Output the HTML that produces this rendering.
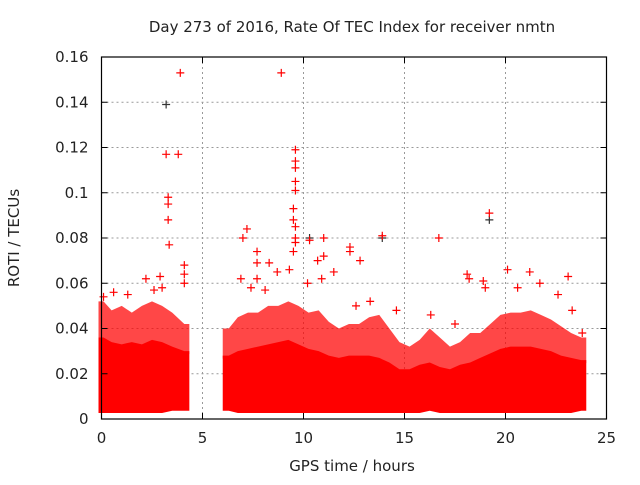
<!DOCTYPE html>
<html><head><meta charset="utf-8"><style>
body{margin:0;background:#fff}
svg text{font-family:"DejaVu Sans","Liberation Sans",sans-serif;fill:#222}
</style></head><body>
<svg id="chart" width="640" height="480" viewBox="0 0 640 480" xmlns="http://www.w3.org/2000/svg">
<rect width="640" height="480" fill="#fff"/>
<g id="grid"></g><g id="bands"></g><g id="marks"></g><g id="axes"></g>
<text x="352" y="32" font-size="15" text-anchor="middle">Day 273 of 2016, Rate Of TEC Index for receiver nmtn</text>
<text x="352" y="471" font-size="15" text-anchor="middle">GPS time / hours</text>
<text transform="translate(19,238) rotate(-90)" font-size="15" text-anchor="middle">ROTI / TECUs</text>
</svg>
<script>
const xTicks=[0,5,10,15,20,25];
const yTicks=[0,0.02,0.04,0.06,0.08,0.1,0.12,0.14,0.16];
const yTickLabels=["0","0.02","0.04","0.06","0.08","0.1","0.12","0.14","0.16"];
const seg1Start=0, seg1End=4.2, seg2Start=6.15, seg2End=23.85;
const binMid=[0.1,0.5,1,1.5,2,2.5,3,3.5,4.1,6.3,6.75,7.25,7.75,8.25,8.75,9.25,9.75,10.25,10.75,11.25,11.75,12.25,12.75,13.25,13.75,14.25,14.75,15.25,15.75,16.25,16.75,17.25,17.75,18.25,18.75,19.25,19.75,20.25,20.75,21.25,21.75,22.25,22.75,23.25,23.75];
const binLow=[0.004,0.004,0.004,0.004,0.004,0.004,0.004,0.005,0.005,0.005,0.004,0.004,0.004,0.004,0.004,0.004,0.004,0.004,0.004,0.004,0.004,0.004,0.004,0.004,0.004,0.004,0.004,0.004,0.004,0.005,0.004,0.004,0.004,0.004,0.004,0.004,0.004,0.004,0.004,0.004,0.004,0.004,0.004,0.004,0.005];
const binDense=[0.036,0.034,0.033,0.034,0.033,0.035,0.034,0.032,0.03,0.028,0.03,0.031,0.032,0.033,0.034,0.035,0.033,0.031,0.03,0.028,0.027,0.028,0.028,0.028,0.027,0.025,0.022,0.022,0.024,0.025,0.023,0.022,0.024,0.025,0.027,0.029,0.031,0.032,0.032,0.032,0.031,0.03,0.028,0.027,0.026];
const binTop=[0.052,0.048,0.05,0.047,0.05,0.052,0.05,0.047,0.042,0.04,0.045,0.047,0.047,0.05,0.05,0.052,0.05,0.047,0.048,0.043,0.04,0.042,0.042,0.045,0.046,0.04,0.034,0.032,0.035,0.04,0.036,0.032,0.034,0.038,0.038,0.042,0.046,0.047,0.047,0.048,0.046,0.044,0.041,0.038,0.036];
const ptX=[3.2,3.9,3.8,3.3,3.3,3.3,3.35,4.1,4.1,4.1,2.9,2.2,8.9,9.6,9.6,9.6,9.6,9.6,9.5,9.5,9.6,9.6,9.6,9.5,7.2,7.0,7.7,7.7,7.7,10.3,11,11,10.7,12.3,12.3,13.9,16.7,18.1,18.2,19.2,20.1,21.2,23.1,23.8,8.3,6.9,8.7,11.5,12.8,0.1,0.6,1.3,2.6,3.0,7.4,8.1,10.2,13.3,14.6,16.3,17.5,19.0,20.6,21.7,22.6,23.3,18.9,9.3,10.9,12.6];
const ptY=[0.117,0.153,0.117,0.098,0.095,0.088,0.077,0.068,0.064,0.06,0.063,0.062,0.153,0.119,0.114,0.111,0.105,0.101,0.093,0.088,0.085,0.08,0.078,0.074,0.084,0.08,0.074,0.069,0.062,0.079,0.08,0.072,0.07,0.076,0.074,0.081,0.08,0.064,0.062,0.091,0.066,0.065,0.063,0.038,0.069,0.062,0.065,0.065,0.07,0.054,0.056,0.055,0.057,0.058,0.058,0.057,0.06,0.052,0.048,0.046,0.042,0.058,0.058,0.06,0.055,0.048,0.061,0.066,0.062,0.05];
const blackX=[3.2,19.2,10.3,13.9];
const blackY=[0.139,0.088,0.08,0.08];
const NS="http://www.w3.org/2000/svg";
const L=101.5,R=606.5,T=57,B=419;
const xs=v=>L+(v/25)*(R-L);
const ys=v=>B-(v/0.16)*(B-T);
function mk(tag,attrs,parent){const e=document.createElementNS(NS,tag);for(const k in attrs)e.setAttribute(k,attrs[k]);parent.appendChild(e);return e;}
const grid=document.getElementById('grid'),axes=document.getElementById('axes'),bands=document.getElementById('bands'),marks=document.getElementById('marks');
xTicks.forEach((t,i)=>{const x=xs(t);
 if(i>0&&i<xTicks.length-1){const g=mk('line',{x1:x,x2:x,y1:T,y2:B,stroke:'#999','stroke-dasharray':'2,3'},grid);
 
 }
 mk('line',{x1:x,x2:x,y1:B,y2:B-6,stroke:'#000'},axes);mk('line',{x1:x,x2:x,y1:T,y2:T+6,stroke:'#000'},axes);
 const tx=mk('text',{x:x,y:B+24,'font-size':15,'text-anchor':'middle'},axes);tx.textContent=t;
 
 });
yTicks.forEach((t,i)=>{const y=ys(t);
 if(i>0&&i<yTicks.length-1){const g=mk('line',{x1:L,x2:R,y1:y,y2:y,stroke:'#999','stroke-dasharray':'2,3'},grid);
 
 }
 mk('line',{x1:L,x2:L+6,y1:y,y2:y,stroke:'#000'},axes);mk('line',{x1:R,x2:R-6,y1:y,y2:y,stroke:'#000'},axes);
 const tx=mk('text',{x:L-13,y:y+5,'font-size':15,'text-anchor':'end'},axes);tx.textContent=yTickLabels[i];
 
 });
const fr=mk('rect',{x:L,y:T,width:R-L,height:B-T,fill:'none',stroke:'#000','stroke-width':1.2},axes);


function area(idx,s,e,upper,lower,op,name){
 let pts=[];
 pts.push([xs(s)-3,ys(upper[idx[0]])]);
 idx.forEach(i=>pts.push([xs(binMid[i]),ys(upper[i])]));
 pts.push([xs(e)+3,ys(upper[idx[idx.length-1]])]);
 pts.push([xs(e)+3,ys(lower[idx[idx.length-1]])+3]);
 idx.slice().reverse().forEach(i=>pts.push([xs(binMid[i]),ys(lower[i])+3]));
 pts.push([xs(s)-3,ys(lower[idx[0]])+3]);
 const p=mk('polygon',{points:pts.map(q=>q.join(',')).join(' '),fill:'#f00','fill-opacity':op},bands);
 
 
}
const idx1=binMid.map((m,i)=>i).filter(i=>binMid[i]<=seg1End);
const idx2=binMid.map((m,i)=>i).filter(i=>binMid[i]>=seg2Start);
[[idx1,seg1Start,seg1End],[idx2,seg2Start,seg2End]].forEach(([ix,s,e])=>{
 area(ix,s,e,binTop,binDense,0.72,'sparse-band');
 area(ix,s,e,binDense,binLow,1,'dense-band');
});
function plus(x,y,c){const p=mk('path',{d:`M${x-4},${y}H${x+4}M${x},${y-4}V${y+4}`,stroke:c,'stroke-width':1.2},marks);return p;}
blackX.forEach((v,i)=>{const p=plus(xs(v),ys(blackY[i]),'#333');
 
 });
ptX.forEach((v,i)=>{const p=plus(xs(v),ys(ptY[i]),'#f00');
 
 });
</script>
</body></html>
